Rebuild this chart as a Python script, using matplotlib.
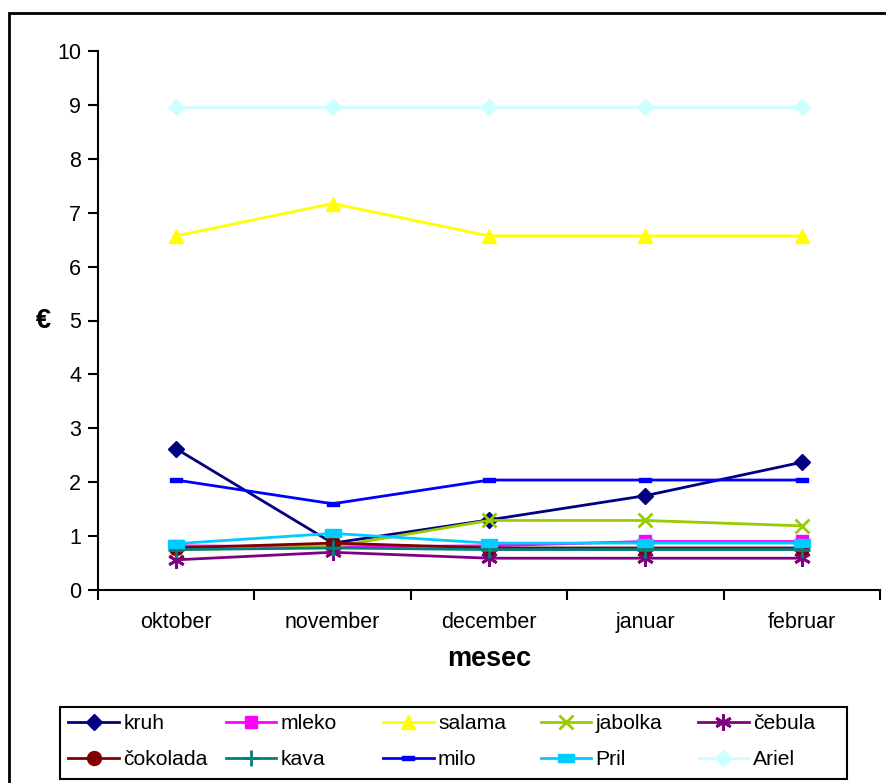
import matplotlib
matplotlib.use("Agg")
import matplotlib.pyplot as plt
from matplotlib.path import Path
from matplotlib.patches import Rectangle
import numpy as np

plt.rcParams['font.family'] = ['Liberation Sans', 'DejaVu Sans']

months = ["oktober", "november", "december", "januar", "februar"]

kruh = [2.62, 0.87, 1.30, 1.75, 2.37]
mleko = [0.82, 0.80, 0.82, 0.90, 0.90]
salama = [6.57, 7.17, 6.57, 6.57, 6.57]
jabolka = [0.75, 0.80, 1.29, 1.29, 1.19]
cebula = [0.56, 0.70, 0.59, 0.59, 0.59]
cokolada = [0.78, 0.87, 0.78, 0.78, 0.78]
kava = [0.75, 0.78, 0.75, 0.75, 0.75]
milo = [2.04, 1.60, 2.04, 2.04, 2.04]
pril = [0.86, 1.05, 0.87, 0.87, 0.87]
ariel = [8.97, 8.97, 8.97, 8.97, 8.97]

dash_small = Path([(-1, -0.4), (1, -0.4), (1, 0.4), (-1, 0.4), (-1, -0.4)],
                  [Path.MOVETO, Path.LINETO, Path.LINETO, Path.LINETO, Path.CLOSEPOLY])
dash_wide = Path([(-1, -0.55), (1, -0.55), (1, 0.55), (-1, 0.55), (-1, -0.55)],
                 [Path.MOVETO, Path.LINETO, Path.LINETO, Path.LINETO, Path.CLOSEPOLY])

series = [
    ("kruh", kruh, "#000080", "D", 8),
    ("mleko", mleko, "#FF00FF", "s", 9),
    ("salama", salama, "#FFFF00", "^", 10),
    ("jabolka", jabolka, "#99CC00", "x", 10),
    ("čebula", cebula, "#800080", (6, 2, 0), 12),
    ("čokolada", cokolada, "#800000", "o", 10),
    ("kava", kava, "#008080", "+", 11),
    ("milo", milo, "#0000FF", dash_small, 8),
    ("Pril", pril, "#00CCFF", dash_wide, 11),
    ("Ariel", ariel, "#CCFFFF", "D", 8),
]

W, H = 887, 783
fig = plt.figure(figsize=(W / 100, H / 100), dpi=100)
ax = fig.add_axes([98 / W, 1 - 590 / H, (880 - 98) / W, (590 - 51) / H])

x = np.arange(len(months))
handles = []
for name, vals, color, marker, ms in series:
    mew = 2 if marker in ("x", "+", (6, 2, 0)) else 1
    line, = ax.plot(x, vals, color=color, lw=2, marker=marker, markersize=ms,
                    markerfacecolor=color, markeredgecolor=color, markeredgewidth=mew,
                    label=name, clip_on=False)
    handles.append(line)

ax.set_xlim(-0.5, len(months) - 0.5)
ax.set_ylim(0, 10)
ax.set_yticks(np.arange(0, 11, 1))
ax.set_xticks(np.arange(-0.5, len(months), 1))
ax.set_xticklabels([])
ax.set_xticks(x, minor=True)
ax.set_xticklabels(months, minor=True)
ax.tick_params(axis='x', which='minor', length=0, pad=16, labelsize=15.5)
ax.tick_params(axis='x', which='major', length=7, width=1.5, direction='out')
ax.tick_params(axis='y', length=7, width=1.5, direction='out', labelsize=15.5, pad=5)

for s in ("top", "right"):
    ax.spines[s].set_visible(False)
for s in ("left", "bottom"):
    ax.spines[s].set_linewidth(1.5)

ax.set_xlabel("mesec", fontsize=19.5, fontweight='bold', labelpad=9)
ax.set_ylabel("€", fontsize=19.5, fontweight='bold', rotation=0, labelpad=10, va='center')

# legend: two rows of five equal-width columns, each column its own legend
ncol = 5
box_l, box_r, box_t, box_b = 60, 847, 707, 779
col_w = (box_r - box_l) / ncol
for c in range(ncol):
    idx = [c, c + ncol]
    leg = fig.legend([handles[i] for i in idx], [series[i][0] for i in idx],
                     loc='upper left',
                     bbox_to_anchor=((box_l + 2 + c * col_w) / W, 1 - (box_t + 1) / H),
                     fontsize=15.2, handlelength=2.4, handletextpad=0.2,
                     frameon=False, borderaxespad=0, borderpad=0.3,
                     labelspacing=0.8)

fig.patches.append(Rectangle((box_l / W, 1 - box_b / H), (box_r - box_l) / W,
                             (box_b - box_t) / H, transform=fig.transFigure,
                             fill=False, edgecolor='black', lw=1.5))

fig.patches.append(Rectangle((9 / W, -0.05), 1.2, 1 - 13 / H + 0.05,
                             transform=fig.transFigure, fill=False,
                             edgecolor='black', lw=2, clip_on=False))

fig.savefig("out.png", dpi=100)
